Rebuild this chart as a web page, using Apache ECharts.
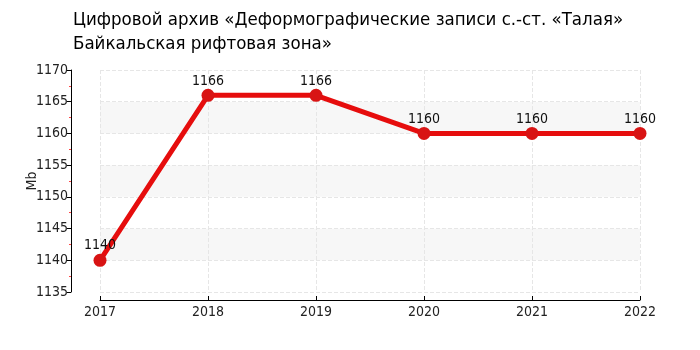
<!DOCTYPE html>
<html><head><meta charset="utf-8">
<script src="https://cdn.jsdelivr.net/npm/echarts@6/dist/echarts.min.js"></script>
<style>html,body{margin:0;padding:0;background:#fff}#c{width:700px;height:350px}</style>
</head><body><div id="c"></div>
<script>
var titleText = 'Цифровой архив «Деформографические записи с.-ст. «Талая»\nБайкальская рифтовая зона»';
var years = ['2017','2018','2019','2020','2021','2022'];
var values = [1140, 1166, 1166, 1160, 1160, 1160];
var yName = 'Mb';
var FONT = '"DejaVu Sans Condensed", "DejaVu Sans", sans-serif';
var chart = echarts.init(document.getElementById('c'), null, {renderer:'canvas'});
chart.setOption({
  animation:false,
  backgroundColor:'#fff',
  title:{text:titleText,left:68,top:3,textStyle:{fontFamily:FONT,fontSize:18.5,fontWeight:'normal',color:'#000',lineHeight:24}},
  grid:{left:100,right:60,top:70,bottom:58,containLabel:false},
  xAxis:{type:'category',data:years,boundaryGap:false,offset:8,
    axisLine:{lineStyle:{color:'#000',width:1}},
    axisTick:{show:true,inside:true,length:4,lineStyle:{color:'#000'}},
    axisLabel:{fontFamily:FONT,fontSize:14,color:'#222',margin:5},
    splitLine:{show:true,lineStyle:{color:'#e6e6e6',type:'dashed'}}},
  yAxis:{type:'value',min:1135,max:1170,interval:5,offset:29,
    name:yName,nameLocation:'middle',nameGap:32,nameMoveOverlap:false,nameTextStyle:{fontFamily:FONT,fontSize:14,color:'#222'},
    axisLine:{show:true,lineStyle:{color:'#000',width:1}},
    axisTick:{show:true,length:4,lineStyle:{color:'#000'}},
    minorTick:{show:true,splitNumber:2,length:2,lineStyle:{color:'#ff4444'}},
    axisLabel:{fontFamily:FONT,fontSize:14,color:'#222',margin:3,formatter:function(v){return String(v);}},
    splitLine:{show:true,lineStyle:{color:'#e6e6e6',type:'dashed'}},
    splitArea:{show:true,areaStyle:{color:['#ffffff','#f7f7f7']}}},
  series:[{type:'line',data:values,symbol:'circle',symbolSize:13,
    lineStyle:{color:'#e60d0d',width:5},
    itemStyle:{color:'#d81414'},
    label:{show:true,position:'top',distance:1,fontFamily:FONT,fontSize:14,color:'#111'}}]
});
</script></body></html>
